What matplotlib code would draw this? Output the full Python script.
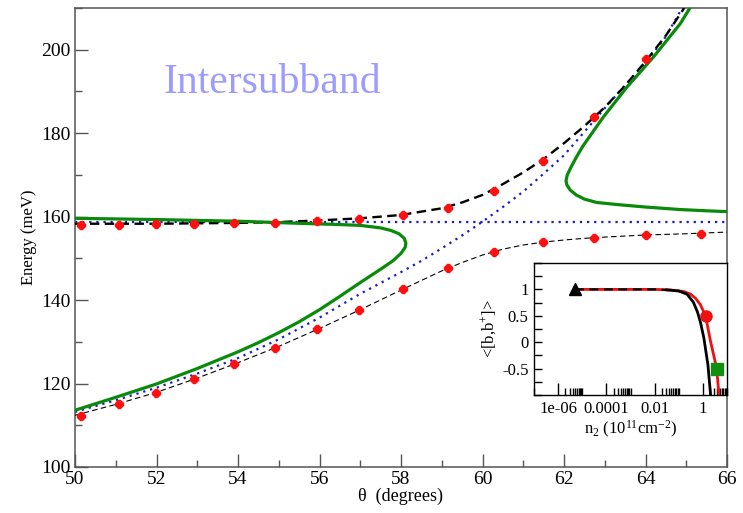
import numpy as np
import matplotlib
matplotlib.use("Agg")
import matplotlib.pyplot as plt
from matplotlib.ticker import MultipleLocator, FixedLocator, FixedFormatter, NullFormatter

# ---- main panel data (theta in degrees, energy in meV) ----
horiz_theta = [50, 66]
horiz_energy = [158.7, 158.7]

photon_theta = [50, 51, 52, 53, 54, 55, 56, 57, 58, 58.5, 59, 59.5, 60, 60.5,
                61, 61.5, 62, 62.5, 63, 63.5, 64, 64.5, 64.9]
photon_energy = [113.2, 116.0, 119.0, 122.4, 126.1, 130.6, 135.8, 141.5, 146.7, 149.4,
                 152.4, 155.5, 158.8, 162.3, 166.0, 170.3, 174.7, 180.3, 186.0, 191.5,
                 196.8, 203.2, 210.0]

green_lo_theta = [50, 51, 52, 53, 54, 54.5, 55, 55.5, 56, 56.5, 57, 57.5, 57.8, 58.0,
                  58.1, 58.12, 58.08, 57.95, 57.75, 57.5, 57.0, 56.5, 55.5, 54, 52, 50]
green_lo_energy = [113.6, 116.7, 119.9, 123.6, 127.6, 129.8, 132.2, 134.8, 137.7, 140.9,
                   144.2, 147.4, 149.4, 151.2, 152.6, 153.6, 154.8, 155.9, 156.7, 157.3,
                   157.9, 158.1, 158.4, 158.9, 159.3, 159.6]

green_hi_theta = [66.0, 65.5, 64.85, 64.0, 63.3, 62.8, 62.5, 62.3, 62.15, 62.07, 62.05,
                  62.08, 62.18, 62.3, 62.47, 62.96, 63.54, 64.19, 64.85, 65.09]
green_hi_energy = [161.2, 161.4, 161.7, 162.3, 162.9, 163.4, 164.2, 165.2, 166.4, 167.6,
                   168.6, 170.0, 172.0, 174.2, 177.0, 183.8, 191.0, 198.2, 206.2, 210.0]

upper_theta = [50, 52, 54, 55, 56, 57, 58, 59, 59.5, 60, 60.5, 61, 61.5, 62,
               62.5, 63, 63.5, 64, 64.5, 64.95]
upper_energy = [158.3, 158.3, 158.5, 158.7, 159.1, 159.6, 160.4, 162.0, 163.4, 165.2,
                167.8, 170.6, 173.8, 177.6, 181.7, 186.2, 191.4, 197.2, 203.4, 210.0]

lower_theta = [50, 51, 52, 53, 54, 55, 56, 57, 58, 59, 59.5, 60, 60.5, 61, 61.5,
               62, 62.5, 63, 64, 65, 66]
lower_energy = [112.4, 115.0, 117.9, 121.3, 125.0, 128.9, 133.2, 137.7, 142.4, 147.0,
                149.0, 150.8, 152.2, 153.2, 153.9, 154.4, 154.8, 155.1, 155.6, 155.9, 156.3]

pts_up_theta = [50.15, 51.07, 51.99, 52.93, 53.90, 54.91, 55.93, 56.98, 58.06,
                59.16, 60.29, 61.49, 62.74, 64.01]
pts_up_energy = [158.0, 158.0, 158.2, 158.2, 158.5, 158.5, 159.0, 159.5, 160.3,
                 162.0, 166.2, 173.4, 183.9, 197.8]
pts_lo_theta = [50.15, 51.07, 51.99, 52.93, 53.90, 54.91, 55.93, 56.98, 58.06,
                59.16, 60.29, 61.49, 62.74, 64.01, 65.35]
pts_lo_energy = [112.2, 115.0, 117.8, 121.2, 124.8, 128.6, 133.1, 137.6, 142.6,
                 147.7, 151.6, 154.0, 154.8, 155.6, 155.9]

# ---- inset data ----
red_n = [5e-6, 1e-4, 1e-2, 0.045, 0.16, 0.31, 0.5, 0.79, 1.29, 2.09, 2.82, 3.72, 4.68]
red_b = [1, 1, 1, 0.99, 0.96, 0.91, 0.83, 0.71, 0.5, 0.01, -0.25, -0.5, -1.0]
black_n = [5e-6, 1e-4, 0.01, 0.033, 0.1, 0.22, 0.4, 0.59, 0.79, 1.1, 1.62, 2.09]
black_b = [1, 1, 1, 0.99, 0.97, 0.91, 0.76, 0.58, 0.38, 0.08, -0.43, -1.0]
tri_pt = (5e-6, 1.0)
circ_pt = (1.29, 0.5)
sq_pt = (3.72, -0.5)
inset_xticks = [1e-6, 1e-4, 1e-2, 1]
inset_xticklabels = ["1e-06", "0.0001", "0.01", "1"]
inset_yticks = [-0.5, 0, 0.5, 1]
inset_yticklabels = ["-0.5", "0", "0.5", "1"]

SERIF = "Liberation Serif"
plt.rcParams["font.family"] = [SERIF, "DejaVu Serif"]
plt.rcParams["mathtext.fontset"] = "custom"
plt.rcParams["mathtext.rm"] = SERIF
plt.rcParams["mathtext.it"] = SERIF + ":italic"

GREEN = "#0a8a0a"
BLUE = "#1a1ac8"
FRAME = "#555555"


def draw_main(fig):
    ax = fig.add_axes([75 / 743, 1 - 467 / 513, 652 / 743, 459 / 513])
    ax.plot(horiz_theta, horiz_energy, color=BLUE, lw=1.6, ls=(0, (1, 2.2)), zorder=2)
    ax.plot(photon_theta, photon_energy, color=BLUE, lw=1.6, ls=(0, (1, 2.2)), zorder=2)
    ax.plot(upper_theta, upper_energy, color="black", lw=1.7, ls=(0, (4, 2.3)), zorder=3)
    ax.plot(lower_theta, lower_energy, color="black", lw=0.8, ls=(0, (5, 3)), zorder=3)
    ax.plot(green_lo_theta, green_lo_energy, color=GREEN, lw=2.3, zorder=4)
    ax.plot(green_hi_theta, green_hi_energy, color=GREEN, lw=2.3, zorder=4)
    for th, en in [(pts_up_theta, pts_up_energy), (pts_lo_theta, pts_lo_energy)]:
        ax.plot(th, en, ls="none", marker="8", ms=5.5, color="#ff1010",
                mec="#ff1010", zorder=5)

    ax.set_xlim(50, 66)
    ax.set_ylim(100, 210)
    ax.xaxis.set_major_locator(MultipleLocator(2))
    ax.xaxis.set_minor_locator(MultipleLocator(1))
    ax.yaxis.set_major_locator(MultipleLocator(20))
    ax.yaxis.set_minor_locator(MultipleLocator(10))
    ax.tick_params(which="both", direction="in", top=False, right=False,
                   color=FRAME, width=1.0, labelsize=14, pad=3)
    ax.tick_params(which="major", length=9.5)
    ax.tick_params(which="minor", length=5)
    for sp in ax.spines.values():
        sp.set_color(FRAME)
        sp.set_linewidth(1.1)

    ax.set_xlabel("\u03b8  (degrees)", fontsize=13, labelpad=0)
    ax.set_ylabel("Energy (meV)", fontsize=12, labelpad=3)
    ax.text(52.16, 189.7, "Intersubband", fontsize=30, color="#9c9cff",
            ha="left", va="baseline")
    return ax


def draw_inset(fig):
    ins = fig.add_axes([534 / 743, 1 - 395 / 513, 193 / 743, 132 / 513])
    ins.set_facecolor("white")
    ins.plot(red_n, red_b, color="#ee1111", lw=2.0, zorder=2)
    ins.plot(black_n[3:], black_b[3:], color="black", lw=2.0, zorder=2)
    ins.plot(black_n[:4], black_b[:4], color="black", lw=1.6, ls=(0, (4, 2.5)), zorder=3)
    ins.plot(*tri_pt, marker="^", ms=8, color="black", zorder=5)
    ins.plot(*circ_pt, marker="o", ms=8, color="#ee1111", zorder=5)
    ins.plot(*sq_pt, marker="s", ms=8, color="#109010", zorder=5)

    ins.set_xscale("log")
    ins.set_xlim(1e-7, 10)
    ins.set_ylim(-1.0, 1.5)
    ins.xaxis.set_major_locator(FixedLocator(inset_xticks))
    ins.xaxis.set_major_formatter(FixedFormatter(inset_xticklabels))
    minor = [k * 10.0 ** e for e in range(-8, 2, 2) for k in range(2, 11)]
    ins.xaxis.set_minor_locator(FixedLocator(minor))
    ins.xaxis.set_minor_formatter(NullFormatter())
    ins.yaxis.set_major_locator(FixedLocator(inset_yticks))
    ins.yaxis.set_major_formatter(FixedFormatter(inset_yticklabels))
    ins.yaxis.set_minor_locator(MultipleLocator(0.25))
    ins.tick_params(which="both", direction="in", top=False, right=False,
                    width=1.0, labelsize=12, pad=4)
    ins.tick_params(axis="x", which="major", length=9)
    ins.tick_params(axis="x", which="minor", length=5)
    ins.tick_params(axis="y", which="both", length=6)
    for sp in ins.spines.values():
        sp.set_linewidth(1.0)
    ins.set_xlabel("n$_2$ (10$^{11}$cm$^{-2}$)", fontsize=12, labelpad=2)
    ins.set_ylabel("<[b,b$^{+}$]>", fontsize=12, labelpad=2)
    return ins


def main():
    fig = plt.figure(figsize=(7.43, 5.13), dpi=100)
    draw_main(fig)
    draw_inset(fig)
    fig.savefig("out.png", dpi=100)


if __name__ == "__main__":
    main()
